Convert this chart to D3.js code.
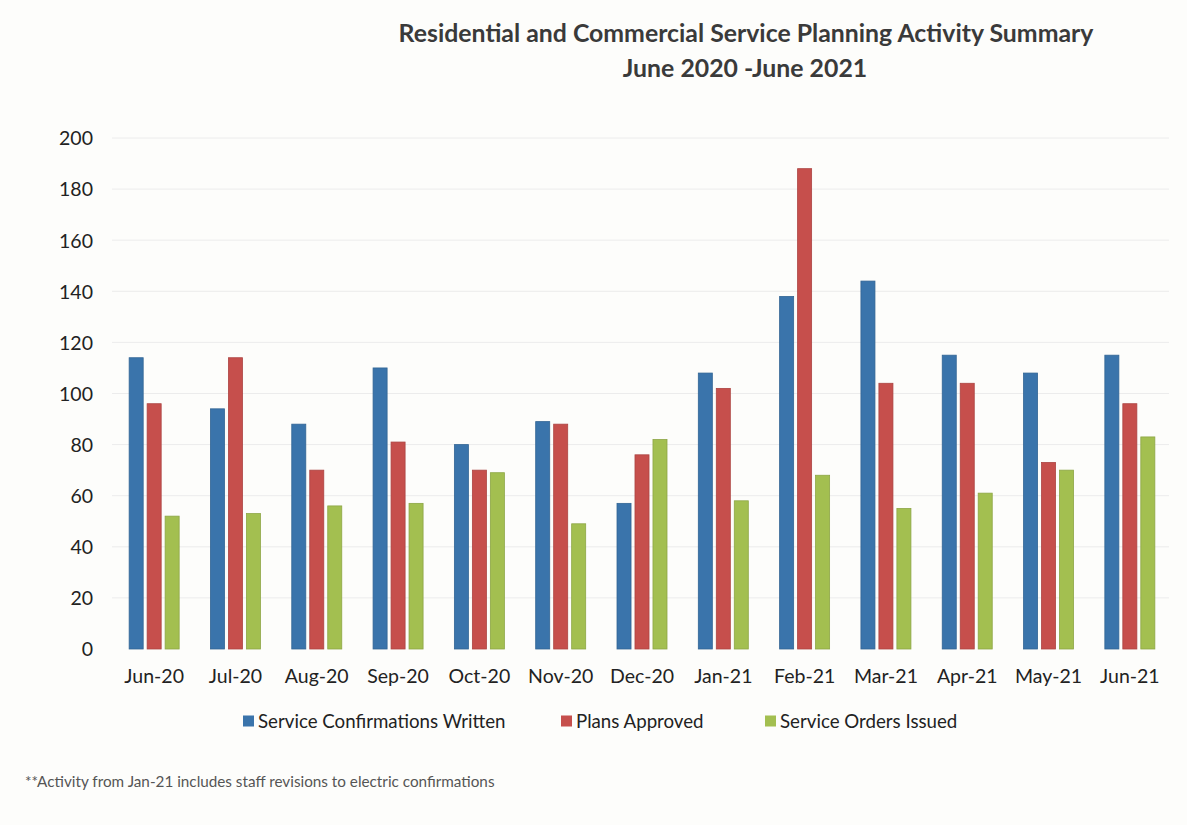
<!DOCTYPE html>
<html><head><meta charset="utf-8">
<script src="https://cdn.jsdelivr.net/npm/d3@7"></script>
<style>body{margin:0;background:#fdfdfb;}svg{display:block;}</style>
</head><body>
<svg id="c" width="1187" height="825"></svg>
<script>
const categories = ["Jun-20","Jul-20","Aug-20","Sep-20","Oct-20","Nov-20","Dec-20","Jan-21","Feb-21","Mar-21","Apr-21","May-21","Jun-21"];
const seriesNames = ["Service Confirmations Written","Plans Approved","Service Orders Issued"];
const confirmations = [114, 94, 88, 110, 80, 89, 57, 108, 138, 144, 115, 108, 115];
const plansApproved = [96, 114, 70, 81, 70, 88, 76, 102, 188, 104, 104, 73, 96];
const ordersIssued = [52, 53, 56, 57, 69, 49, 82, 58, 68, 55, 61, 70, 83];
const yTicks = [0, 20, 40, 60, 80, 100, 120, 140, 160, 180, 200];
const colors = ["#3a74ab", "#c64f4c", "#a3bf50"];
const titleLines = ["Residential and Commercial Service Planning Activity Summary", "June 2020 -June 2021"];
const footnote = "**Activity from Jan-21 includes staff revisions to electric confirmations";

const seriesValues = [confirmations, plansApproved, ordersIssued];
const svg = d3.select("#c");
const font = "Lato, 'Open Sans', 'Liberation Sans', sans-serif";

const x0 = d3.scaleBand().domain(categories).range([112, 1169]).paddingInner(0).paddingOuter(0);
const groupW = 50;
const x1 = d3.scaleBand().domain(seriesNames).range([0, groupW]).paddingInner(0.22).paddingOuter(0);
const y = d3.scaleLinear().domain([0, 200]).range([649, 138]);

// faint gridlines
svg.append("g").selectAll("line").data(yTicks.filter(d => d > 0)).join("line")
  .attr("x1", 112).attr("x2", 1169)
  .attr("y1", d => y(d)).attr("y2", d => y(d))
  .attr("stroke", "#ececec").attr("stroke-width", 1);

// y axis
const yAxis = d3.axisLeft(y).tickValues(yTicks).tickSize(0).tickPadding(0);
const gy = svg.append("g").attr("transform", "translate(93,0)").call(yAxis);
gy.select(".domain").remove();
gy.selectAll("text").attr("font-family", font).attr("font-size", 19.5).attr("fill", "#222").attr("dy", "0.35em");

// x axis
const xAxis = d3.axisBottom(x0).tickSize(0).tickPadding(0);
const gx = svg.append("g").attr("transform", "translate(1.5,669)").call(xAxis);
gx.select(".domain").remove();
gx.selectAll("text").attr("font-family", font).attr("font-size", 19.5).attr("fill", "#222").attr("dy", "0.71em");

// bars
const groups = svg.append("g").selectAll("g").data(categories).join("g")
  .attr("transform", d => `translate(${x0(d) + x0.bandwidth() / 2 - groupW / 2 + 1.5},0)`);
groups.selectAll("rect").data((d, i) => seriesNames.map((s, k) => ({s, k, v: seriesValues[k][i]}))).join("rect")
  .attr("x", d => x1(d.s))
  .attr("width", x1.bandwidth())
  .attr("y", d => y(d.v))
  .attr("height", d => y(0) - y(d.v))
  .attr("fill", d => colors[d.k])
  .attr("stroke", d => d3.color(colors[d.k]).darker(0.4))
  .attr("stroke-width", 0.8);

// legend
const legendX = [243, 561, 765];
const lg = svg.append("g").selectAll("g").data(seriesNames).join("g")
  .attr("transform", (d, i) => `translate(${legendX[i]},721)`);
lg.append("rect").attr("x", 0).attr("y", -5.5).attr("width", 11).attr("height", 11)
  .attr("fill", (d, i) => colors[i]);
lg.append("text").attr("x", 15).attr("dy", "0.35em").text(d => d)
  .attr("font-family", font).attr("font-size", 18.7).attr("fill", "#222");

// title
const tg = svg.append("g");
const t1 = tg.append("text").attr("x", 746).attr("y", 42).attr("text-anchor", "middle")
  .attr("font-family", font).attr("font-weight", "bold").attr("font-size", 22).attr("fill", "#3a3a3a").text(titleLines[0]);
const w1 = t1.node().getComputedTextLength();
const fs = 22 * 695 / w1;
t1.attr("font-size", fs);
tg.append("text").attr("x", 745).attr("y", 77).attr("text-anchor", "middle")
  .attr("font-family", font).attr("font-weight", "bold").attr("font-size", fs).attr("fill", "#3a3a3a").text(titleLines[1]);

// footnote
const fn = svg.append("text").attr("x", 25).attr("y", 787)
  .attr("font-family", font).attr("font-size", 13).attr("fill", "#555").text(footnote);
const fw = fn.node().getComputedTextLength();
fn.attr("font-size", 13 * 470 / fw);
</script>
</body></html>
